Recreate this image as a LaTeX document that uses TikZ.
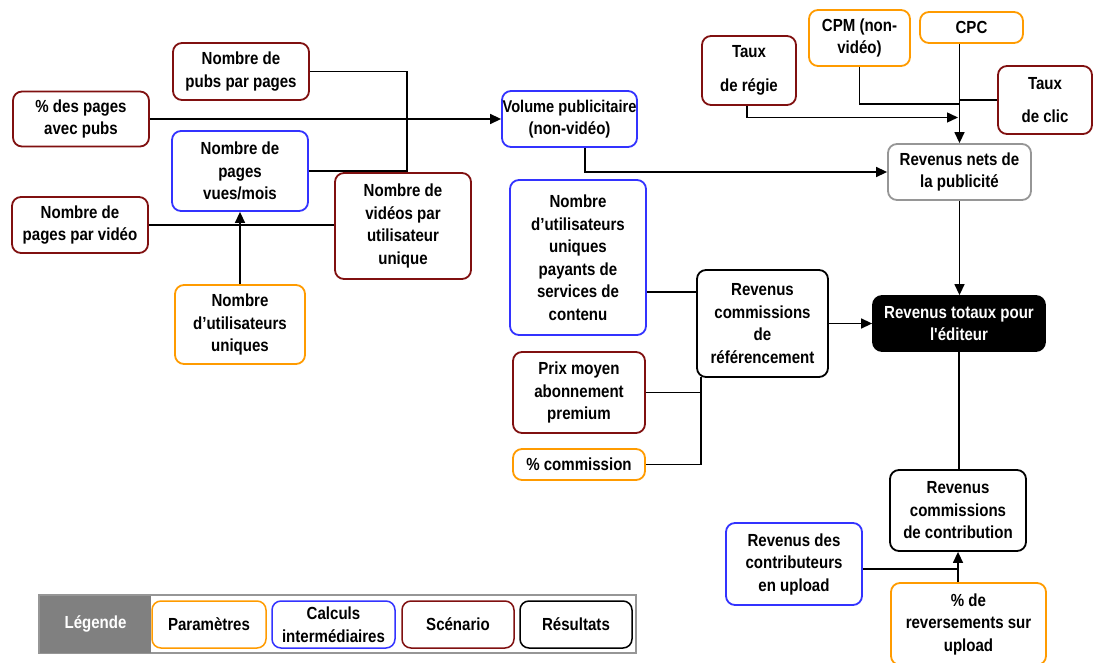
\documentclass[tikz,border=0pt]{standalone}
\usepackage{fontspec}
\newfontfamily\nf{Liberation Sans}[FakeStretch=0.86]
\usetikzlibrary{arrows.meta}
\definecolor{cred}{RGB}{128,16,16}
\definecolor{cblue}{RGB}{51,51,255}
\definecolor{corange}{RGB}{255,155,0}
\definecolor{cgray}{RGB}{150,150,150}
\definecolor{lgray}{RGB}{128,128,128}
\begin{document}
\begin{tikzpicture}[x=1pt,y=-1pt,
  basebox/.style={draw, rounded corners=9pt, line width=1.8pt, align=center, inner sep=0pt, fill=white,
     font=\nf\bfseries\fontsize{17.5}{22.5}\selectfont},
  pbox/.style={basebox, draw=corange},
  cbox/.style={basebox, draw=cblue},
  sbox/.style={basebox, draw=cred},
  rbox/.style={basebox, draw=black},
  gbox/.style={basebox, draw=cgray},
  tbox/.style={basebox, draw=black, fill=black, text=white},
  conn/.style={line width=1.4pt},
  arr/.style={conn, -{Triangle[length=11pt,width=10pt]}}
]
\useasboundingbox (0,0) rectangle (1093,663);

% nodes
\node[sbox, minimum width=136pt, minimum height=57pt] (pubs) at (241,71.5) {Nombre de\\pubs par pages};
\node[sbox, minimum width=136pt, minimum height=55pt] (pct) at (81,119) {\% des pages\\avec pubs};
\node[cbox, minimum width=136pt, minimum height=80pt] (pv) at (240,171) {Nombre de\\pages\\vues/mois};
\node[sbox, minimum width=136pt, minimum height=56pt] (ppv) at (80,225) {Nombre de\\pages par vidéo};
\node[sbox, minimum width=136pt, minimum height=106pt] (vid) at (403,226) {Nombre de\\vidéos par\\utilisateur\\unique};
\node[pbox, minimum width=130pt, minimum height=79pt] (uu) at (240,324.5) {Nombre\\d’utilisateurs\\uniques};
\node[cbox, minimum width=135pt, minimum height=56pt] (vol) at (569.5,119) {\fontsize{17}{22.5}\selectfont Volume publicitaire\\(non-vidéo)};
\node[sbox, minimum width=94pt, minimum height=69pt] (regie) at (749,70.5) {Taux\\[11pt]de régie};
\node[pbox, minimum width=101pt, minimum height=56pt] (cpm) at (859.5,38) {CPM (non-\\vidéo)};
\node[pbox, minimum width=103pt, minimum height=31pt] (cpc) at (971.5,27.5) {CPC};
\node[sbox, minimum width=94pt, minimum height=68pt] (clic) at (1045,100) {Taux\\[11pt]de clic};
\node[gbox, minimum width=143pt, minimum height=56pt] (nets) at (959.5,172) {Revenus nets de\\la publicité};
\node[cbox, minimum width=136pt, minimum height=155pt] (pay) at (578,257.5) {Nombre\\d’utilisateurs\\uniques\\payants de\\services de\\contenu};
\node[rbox, minimum width=131pt, minimum height=107pt] (ref) at (762.5,323.5) {Revenus\\commissions\\de\\référencement};
\node[tbox, minimum width=172pt, minimum height=55pt] (tot) at (959,323.5) {Revenus totaux pour\\l'éditeur};
\node[sbox, minimum width=132pt, minimum height=81pt] (prix) at (579,392.5) {Prix moyen\\abonnement\\premium};
\node[pbox, minimum width=132pt, minimum height=31pt] (com) at (579,464.5) {\% commission};
\node[rbox, minimum width=136pt, minimum height=81pt] (contrib) at (958,510.5) {Revenus\\commissions\\de contribution};
\node[cbox, minimum width=136pt, minimum height=82pt] (cup) at (794,564) {Revenus des\\contributeurs\\en upload};
\node[pbox, minimum width=155pt, minimum height=82pt] (rev) at (968.5,624) {\% de\\reversements sur\\upload};

% junction coordinates
\coordinate (j1) at (407,119);
\coordinate (jr) at (958,117.5);
\coordinate (jc) at (959.5,104);
\coordinate (jv) at (701,377);

% connectors
\draw[conn] (pubs.east) -| (j1) |- (pv.east);
\draw[arr] (pct.east) -- (vol.west);
\draw[conn] (ppv.east) -- (ppv.east -| vid.west);
\draw[arr] (uu.north) -- (pv.south);
\draw[arr] ([xshift=15.5pt]vol.south) |- (nets.west);
\draw[arr] ([xshift=-2pt]regie.south) |- (jr);
\draw[conn] (cpm.south) |- (jc);
\draw[arr] (cpc.south -| nets.north) -- (nets.north);
\draw[conn] (clic.west) -- (clic.west -| nets.north);
\draw[arr] (nets.south) -- (nets.south |- tot.north);
\path (pay.east) ++(0,34.5) coordinate (p1);
\draw[conn] (p1) -- (p1 -| ref.west);
\draw[conn] (prix.east) -- (prix.east -| jv);
\draw[conn] (com.east) -| (jv);
\draw[arr] (ref.east) -- (tot.west);
\draw[conn] (tot.south) -- (tot.south |- contrib.north);
\path (cup.east) ++(0,5) coordinate (c1);
\draw[conn] (c1) -- (c1 -| contrib.south);
\draw[arr] (rev.north -| contrib.south) -- (contrib.south);

% legend
\node[draw=cgray, line width=1.5pt, minimum width=597pt, minimum height=58pt, inner sep=0pt] (legframe) at (337.5,624) {};
\node[fill=lgray, minimum width=111pt, minimum height=57pt, inner sep=0pt, text=white,
      font=\nf\bfseries\fontsize{17.5}{22.5}\selectfont] (leg) at (95.5,624) {Légende};
\node[pbox, line width=1.5pt, minimum width=114pt, minimum height=47pt] (lp) at (209,624.5) {Paramètres};
\node[cbox, line width=1.5pt, minimum width=123pt, minimum height=47pt] (lc) at (333.5,624.5) {Calculs\\intermédiaires};
\node[sbox, line width=1.5pt, minimum width=112pt, minimum height=47pt] (ls) at (458,624.5) {Scénario};
\node[rbox, line width=1.5pt, minimum width=112pt, minimum height=47pt] (lr) at (576,624.5) {Résultats};
\end{tikzpicture}
\end{document}
